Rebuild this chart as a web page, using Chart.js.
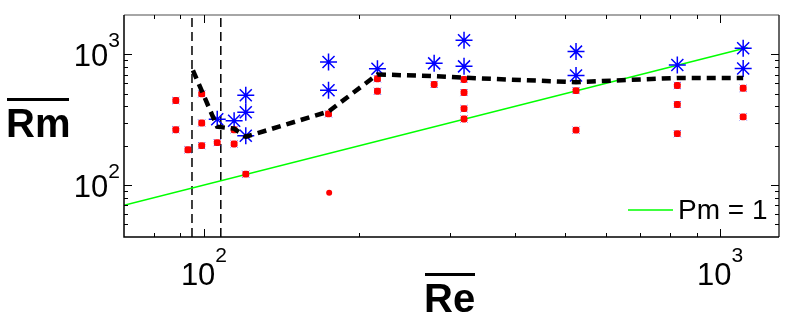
<!DOCTYPE html>
<html>
<head>
<meta charset="utf-8">
<script src="https://cdn.jsdelivr.net/npm/chart.js@4"></script>
<style>
  html, body { margin: 0; padding: 0; background: #fff; }
  #wrap { width: 789px; height: 319px; }
</style>
</head>
<body>
<div id="wrap"><canvas id="chart" width="789" height="319"></canvas></div>
<script>
// red points (Re, Rm)
const redRe = [88.2, 88.2, 93.1, 99.0, 99.0, 99.0, 106.1, 114.4, 114.4, 120.5, 174.3, 216.8, 216.8,
  279.2, 319, 319, 319, 319, 525.7, 525.7, 826, 826, 826, 1108, 1108];
const redRm = [443, 265, 186, 498, 298, 200, 211, 265, 206, 121, 350, 650, 522,
  588, 642, 510, 384, 320, 528, 263, 577, 413, 247, 550, 332];

// lone red dot with no blue marker
const dotRe = [174.8];
const dotRm = [87.3];

// blue asterisks
const starRe = [106.1, 114.4, 120.5, 120.5, 120.5, 174.3, 174.3, 216.8, 279.2, 319, 319, 525.7, 525.7, 826, 1108, 1108];
const starRm = [319, 310, 486, 360, 238, 873, 531, 776, 853, 1282, 809, 1049, 689, 828, 1112, 780];

// thick dashed mean curve
const meanRe = [95.2, 106.1, 114.4, 120.5, 174.3, 216.8, 279.2, 319, 525.7, 826, 1108];
const meanRm = [753, 279, 270, 234, 365, 702, 681, 662, 612, 660, 660];

// Pm = 1 line (Rm = Re)
const pmRe = [70, 1130];

// vertical dashed markers
const vlineRe = [94.8, 107.8];

const xTicksMinor = [80, 90, 200, 300, 400, 500, 600, 700, 800, 900];
const xTicksMajor = [100, 1000];
const yTicksMinor = [50, 60, 70, 80, 90, 200, 300, 400, 500, 600, 700, 800, 900];
const yTicksMajor = [100, 1000];

const pts = (xs, ys) => xs.map((x, i) => ({ x: x, y: ys[i] }));

const vlineSets = vlineRe.map(x => ({
  type: "line",
  data: [{ x: x, y: 40 }, { x: x, y: 2000 }],
  borderColor: "#000",
  borderWidth: 1.5,
  borderDash: [9, 5],
  pointRadius: 0,
  order: 6
}));

// axes frame, inward ticks, labels and legend
const decor = {
  id: "decor",
  afterDraw(chart) {
    const c = chart.ctx;
    const a = chart.chartArea;
    const xs = chart.scales.x, ys = chart.scales.y;
    c.save();

    c.lineWidth = 1.5;
    c.strokeStyle = "#888";
    c.beginPath();
    c.moveTo(a.left, a.top); c.lineTo(a.right, a.top);
    c.stroke();
    c.strokeStyle = "#333";
    c.beginPath();
    c.moveTo(a.right, a.top); c.lineTo(a.right, a.bottom);
    c.stroke();
    c.strokeStyle = "#000";
    c.beginPath();
    c.moveTo(a.left, a.top); c.lineTo(a.left, a.bottom); c.lineTo(a.right, a.bottom);
    c.stroke();

    c.lineWidth = 1;
    c.strokeStyle = "#000";
    const tickX = (v, len) => {
      const p = Math.round(xs.getPixelForValue(v)) + 0.5;
      c.beginPath();
      c.moveTo(p, a.bottom); c.lineTo(p, a.bottom - len);
      c.moveTo(p, a.top); c.lineTo(p, a.top + len);
      c.stroke();
    };
    const tickY = (v, len) => {
      const p = Math.round(ys.getPixelForValue(v)) + 0.5;
      c.beginPath();
      c.moveTo(a.left, p); c.lineTo(a.left + len, p);
      c.moveTo(a.right, p); c.lineTo(a.right - len, p);
      c.stroke();
    };
    xTicksMinor.forEach(v => tickX(v, 4));
    xTicksMajor.forEach(v => tickX(v, 8));
    yTicksMinor.forEach(v => tickY(v, 4));
    yTicksMajor.forEach(v => tickY(v, 8));

    // power-of-ten labels
    const big = "31px 'Liberation Sans', Arial, sans-serif";
    const small = "21px 'Liberation Sans', Arial, sans-serif";
    c.fillStyle = "#000";
    c.textBaseline = "alphabetic";
    const pow = (exp, x, y, supY, align) => {
      c.font = big;
      const wb = c.measureText("10").width;
      c.font = small;
      const ws = c.measureText(exp).width;
      const left = align === "right" ? x - wb - ws : x - (wb + ws) / 2;
      c.textAlign = "left";
      c.font = big;
      c.fillText("10", left, y);
      c.font = small;
      c.fillText(exp, left + wb, supY);
    };
    yTicksMajor.forEach(v => {
      const p = ys.getPixelForValue(v);
      pow(String(Math.round(Math.log10(v))), a.left - 4, p + 12, p - 7, "right");
    });
    xTicksMajor.forEach(v => {
      const p = xs.getPixelForValue(v);
      pow(String(Math.round(Math.log10(v))), p, 285, 262, "center");
    });

    // axis titles with overbars
    c.font = "bold 40px 'Liberation Sans', Arial, sans-serif";
    c.textAlign = "left";
    c.fillText("Rm", 6, 137);
    c.fillText("Re", 424, 312);
    c.lineWidth = 3;
    c.beginPath();
    c.moveTo(7, 99.5); c.lineTo(69, 99.5);
    c.moveTo(425, 274.5); c.lineTo(475, 274.5);
    c.stroke();

    // legend
    c.strokeStyle = "#00ff00";
    c.lineWidth = 1.5;
    c.beginPath();
    c.moveTo(628, 210); c.lineTo(673, 210);
    c.stroke();
    c.font = "28px 'Liberation Sans', Arial, sans-serif";
    c.fillStyle = "#000";
    c.fillText("Pm = 1", 678, 219);

    c.restore();
  }
};

new Chart(document.getElementById("chart").getContext("2d"), {
  type: "scatter",
  data: {
    datasets: [
      {
        type: "line",
        data: pts(meanRe, meanRm),
        borderColor: "#000",
        borderWidth: 4.5,
        borderDash: [9, 6],
        pointRadius: 0,
        order: 0
      },
      {
        data: pts(redRe, redRm),
        pointStyle: "rectRounded",
        pointRadius: 4,
        backgroundColor: "#ff0000",
        borderColor: "#ff0000",
        borderWidth: 0,
        order: 1
      },
      {
        // small blue markers peeking out under the red squares
        data: pts(redRe, redRm),
        pointStyle: "crossRot",
        pointRadius: 5,
        borderColor: "rgba(40,40,255,0.8)",
        borderWidth: 1,
        order: 2
      },
      {
        data: pts(dotRe, dotRm),
        pointStyle: "circle",
        pointRadius: 3,
        backgroundColor: "#ff0000",
        borderColor: "#ff0000",
        borderWidth: 0,
        order: 1
      },
      {
        data: pts(starRe, starRm),
        pointStyle: "star",
        pointRadius: 8.5,
        borderColor: "#0000ff",
        backgroundColor: "#0000ff",
        borderWidth: 1.5,
        order: 3
      },
      {
        type: "line",
        data: pts(pmRe, pmRe),
        borderColor: "#00ff00",
        borderWidth: 1.5,
        pointRadius: 0,
        order: 4
      },
      ...vlineSets
    ]
  },
  options: {
    responsive: false,
    animation: false,
    layout: { padding: { top: 15, right: 7, left: 0, bottom: 0 } },
    plugins: { legend: { display: false }, tooltip: { enabled: false } },
    scales: {
      x: {
        type: "logarithmic",
        min: 70,
        max: 1300,
        ticks: { display: false },
        grid: { display: false },
        border: { display: false },
        afterFit: s => { s.height = 82; }
      },
      y: {
        type: "logarithmic",
        min: 40,
        max: 2000,
        ticks: { display: false },
        grid: { display: false },
        border: { display: false },
        afterFit: s => { s.width = 124; }
      }
    }
  },
  plugins: [decor]
});
</script>
</body>
</html>
